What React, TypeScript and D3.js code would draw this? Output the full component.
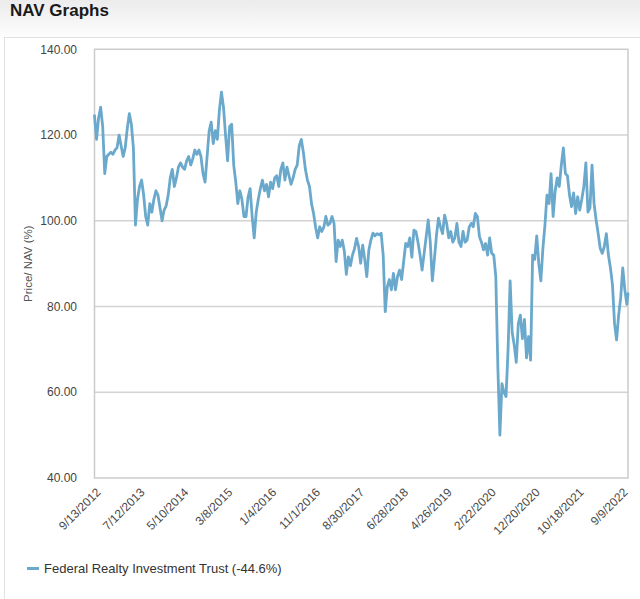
import React from "react";
import * as d3 from "d3";

const TITLE = "NAV Graphs";
const SERIES_NAME = "Federal Realty Investment Trust (-44.6%)";
const Y_TITLE = "Price/ NAV (%)";
const START_DATE = "2012-09-13";
const END_DATE = "2022-09-09";
const STEP_DAYS = 14;
const X_LABELS = [
  "9/13/2012", "7/12/2013", "5/10/2014", "3/8/2015", "1/4/2016", "11/1/2016",
  "8/30/2017", "6/28/2018", "4/26/2019", "2/22/2020", "12/20/2020", "10/18/2021", "9/9/2022",
];
const Y_TICKS = [40, 60, 80, 100, 120, 140];
const Y_GRID = [60, 80, 100, 120];

// Price/NAV read every 14 days from 2012-09-13
const NAV_VALUES = [
  124.5, 119, 124, 126.5, 122, 111, 115, 115.5, 116, 115.5,
  116.5, 117, 120, 117.5, 115, 117, 121.5, 125, 122.5, 117,
  99, 105, 108, 109.5, 106, 101, 99, 104, 102, 105,
  107, 106, 103, 100, 102.5, 103.5, 106, 110, 112, 108,
  110, 112.5, 113.5, 112.5, 112, 114, 115, 113, 114.5, 116.5,
  115.5, 116.5, 115, 111, 109, 115, 121, 123, 118, 121,
  119, 125.8, 130, 126.5, 120, 114, 122, 122.5, 113, 109,
  104, 107, 105, 101, 101, 105.5, 107.5, 101, 96, 102,
  105, 107.5, 109.5, 107, 108.5, 105.6, 109, 107.5, 110, 110.5,
  108, 112, 113.5, 109.5, 112.5, 110.5, 108.5, 110, 112, 113,
  117.5, 119, 116, 112, 109.5, 108, 104, 101.7, 98.5, 96,
  98.6, 97.5, 98.5, 101, 99, 99.4, 101, 99.4, 90.5, 95.5,
  94, 95.5, 93, 87.5, 91.6, 89.5, 92, 93.5, 95.9, 94,
  90.1, 94.3, 91, 87, 93.2, 95.5, 97.1, 96.5, 97, 96.7,
  97.1, 92, 78.8, 84.6, 86.3, 83.9, 87.7, 83.9, 87, 88.5,
  86.3, 90.5, 94.7, 94, 96, 91.5, 97.8, 97.5, 95, 92,
  88.5, 92.4, 96.3, 100.2, 95, 86, 91, 96.5, 100.6, 98.6,
  97, 101.3, 99.4, 96, 97.5, 95, 96, 99.4, 95, 94,
  97.5, 95, 95.5, 98.5, 99.4, 98.6, 101.7, 101, 96.3, 95,
  93.2, 94.7, 92, 96, 92.4, 92, 87, 66, 50, 62,
  60, 59, 70, 86, 74, 71, 67, 76, 78, 72.5,
  77, 68, 73, 67.5, 92, 91, 96.5, 90, 86, 93.5,
  99, 106, 104, 111, 101, 107, 110, 108, 113, 117,
  111, 110.5, 106, 103.3, 106.5, 101.7, 105.6, 102.5, 105, 108,
  113.5, 102, 103, 113, 104, 100.2, 97, 93.6, 92.4, 94,
  97, 92, 89, 85, 76, 72.2, 78, 82, 89, 84,
  80.5,
];
const LAST_VALUE = 83;

const FONT = "'Liberation Sans', Arial, sans-serif";
const LINE_COLOR = "#6aa9cc";

export default function App() {
  const W = 640;
  const H = 599;
  const left = 94.5;
  const right = 628;
  const top = 49.3;
  const bottom = 478;

  const parse = d3.timeParse("%Y-%m-%d");
  const start = parse(START_DATE) as Date;
  const end = parse(END_DATE) as Date;
  const data = NAV_VALUES.map((v, i) => ({ d: d3.timeDay.offset(start, i * STEP_DAYS), v }));
  data.push({ d: end, v: LAST_VALUE });

  const x = d3.scaleTime().domain([start, end]).range([left, right]);
  const y = d3.scaleLinear().domain([40, 140]).range([bottom, top]);
  const line = d3
    .line<{ d: Date; v: number }>()
    .x((p) => x(p.d))
    .y((p) => y(p.v));
  const xl = d3.scalePoint<string>().domain(X_LABELS).range([left + 7, right + 0.5]);

  return (
    <div style={{ position: "absolute", left: 0, top: 0 }}>
      <svg width={W} height={H} style={{ display: "block" }}>
        <defs>
          <linearGradient id="hdr" x1="0" y1="0" x2="0" y2="1">
            <stop offset="0" stopColor="#ececec" />
            <stop offset="1" stopColor="#fdfdfd" />
          </linearGradient>
        </defs>
        <rect x={0} y={0} width={W} height={38} fill="url(#hdr)" />
        <rect x={0} y={38} width={W} height={H - 38} fill="#fff" />
        <text x={10} y={16} fontFamily={FONT} fontWeight="bold" fontSize={17} fill="#1a1a1a">
          {TITLE}
        </text>
        <rect x={4.5} y={37.5} width={W} height={H} fill="#fff" stroke="#e2e2e2" />

        {Y_GRID.map((t) => (
          <line key={t} x1={left} x2={right} y1={y(t)} y2={y(t)} stroke="#d3d3d3" strokeWidth={1.5} />
        ))}
        <rect
          x={left}
          y={top}
          width={right - left}
          height={bottom - top}
          fill="none"
          stroke="#cbcbcb"
          strokeWidth={1.5}
        />

        {Y_TICKS.map((t) => (
          <text
            key={t}
            x={77}
            y={y(t)}
            dy="0.35em"
            textAnchor="end"
            fontFamily={FONT}
            fontSize={12}
            fill="#444"
          >
            {t.toFixed(2)}
          </text>
        ))}
        <text
          transform={`translate(28,${(top + bottom) / 2}) rotate(-90)`}
          textAnchor="middle"
          dy="0.35em"
          fontFamily={FONT}
          fontSize={11.5}
          fill="#555"
        >
          {Y_TITLE}
        </text>

        {X_LABELS.map((l) => (
          <text
            key={l}
            transform={`translate(${xl(l)},493) rotate(-45)`}
            textAnchor="end"
            fontFamily={FONT}
            fontSize={12}
            fill="#4a4a4a"
          >
            {l}
          </text>
        ))}

        <path
          d={line(data) || ""}
          fill="none"
          stroke={LINE_COLOR}
          strokeWidth={2.8}
          strokeLinejoin="round"
          strokeLinecap="round"
        />

        <line x1={27} x2={39} y1={568.5} y2={568.5} stroke={LINE_COLOR} strokeWidth={3} />
        <text x={44} y={568.5} dy="0.35em" fontFamily={FONT} fontSize={13} fill="#333">
          {SERIES_NAME}
        </text>
      </svg>
    </div>
  );
}
